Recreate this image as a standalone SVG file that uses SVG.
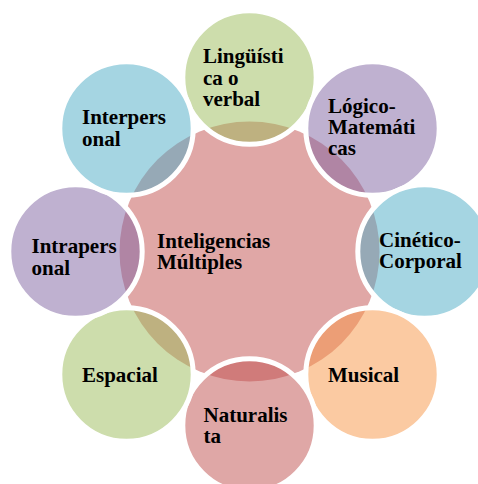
<svg xmlns="http://www.w3.org/2000/svg" width="478" height="484" viewBox="0 0 478 484">
  <style>
    .ring { stroke: #FFFFFF; stroke-width: 5; fill-opacity: 0.5; }
    .green { fill: #9BBB59; }
    .purple { fill: #8064A2; }
    .aqua { fill: #4BACC6; }
    .orange { fill: #F79646; }
    .red { fill: #C0504D; }
    text { font-family: "Liberation Serif", "Times New Roman", serif; font-weight: bold; font-size: 21px; fill: #000000; }
  </style>
  <rect width="478" height="484" fill="#FFFFFF"/>
  <g id="center">
    <circle cx="249.5" cy="251.5" r="130" fill="#E0A7A6"/>
  </g>
  <g id="linguistica">
    <circle class="ring green" cx="249.5" cy="77.5" r="66.7"/>
  </g>
  <g id="logico">
    <circle class="ring purple" cx="372.5" cy="128.5" r="66.7"/>
  </g>
  <g id="cinetico">
    <circle class="ring aqua" cx="424.5" cy="251.5" r="66.7"/>
  </g>
  <g id="musical">
    <circle class="ring orange" cx="372.5" cy="374.5" r="66.7"/>
  </g>
  <g id="naturalista">
    <circle class="ring red" cx="249.5" cy="425.5" r="66.7"/>
  </g>
  <g id="espacial">
    <circle class="ring green" cx="126.5" cy="374.5" r="66.7"/>
  </g>
  <g id="intrapersonal">
    <circle class="ring purple" cx="75.5" cy="251.5" r="66.7"/>
  </g>
  <g id="interpersonal">
    <circle class="ring aqua" cx="126.5" cy="128.5" r="66.7"/>
  </g>
  <g id="labels">
    <text x="157" y="248.3">Inteligencias<tspan x="157" y="269.3">Múltiples</tspan></text>
    <text x="203" y="63">Lingüísti<tspan x="203" y="84.5">ca o</tspan><tspan x="203" y="106">verbal</tspan></text>
    <text x="328" y="112.5">Lógico-<tspan x="328" y="133.5">Matemáti</tspan><tspan x="328" y="154.5">cas</tspan></text>
    <text x="379" y="246.7">Cinético-<tspan x="379" y="267.5">Corporal</tspan></text>
    <text x="328" y="381.7">Musical</text>
    <text x="203.5" y="421.7">Naturalis<tspan x="203.5" y="443.3">ta</tspan></text>
    <text x="82" y="381.7">Espacial</text>
    <text x="31.5" y="253.3">Intrapers<tspan x="31.5" y="274.5">onal</tspan></text>
    <text x="82" y="124.3">Interpers<tspan x="82" y="145.7">onal</tspan></text>
  </g>
</svg>
